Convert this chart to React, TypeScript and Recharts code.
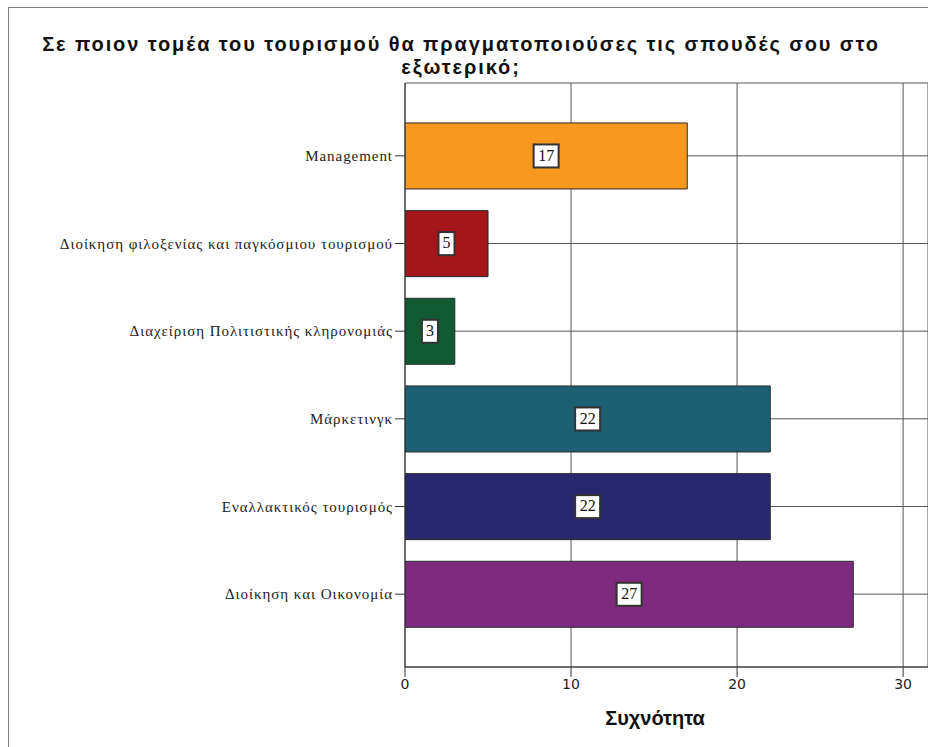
import { Bar, BarChart, CartesianGrid, Cell, LabelList, XAxis, YAxis } from "recharts";

const categories = [
  "Management",
  "Διοίκηση φιλοξενίας και παγκόσμιου τουρισμού",
  "Διαχείριση Πολιτιστικής κληρονομιάς",
  "Μάρκετινγκ",
  "Εναλλακτικός τουρισμός",
  "Διοίκηση και Οικονομία",
];
const counts = [17, 5, 3, 22, 22, 27];
const barColors = ["#F7991E", "#A5161B", "#125A33", "#1D5F73", "#29286F", "#7E2A7E"];
const xTicks = [0, 10, 20, 30];

const data = categories.map((name, i) => ({ name, value: counts[i] }));

function ValueBox(props: any) {
  const { x, y, width, height, value } = props;
  const text = String(value);
  const w = text.length * 9 + 7;
  const h = 23;
  const cx = x + width / 2;
  const cy = y + height / 2;
  return (
    <g>
      <rect
        x={cx - w / 2}
        y={cy - h / 2}
        width={w}
        height={h}
        fill="#fff"
        stroke="#333"
        strokeWidth={2}
      />
      <text
        x={cx}
        y={cy + 1}
        textAnchor="middle"
        dominantBaseline="middle"
        fontFamily="Liberation Serif"
        fontSize={16}
        fill="#111"
      >
        {text}
      </text>
    </g>
  );
}

export default function App() {
  return (
    <div
      style={{
        position: "absolute",
        left: 0,
        top: 0,
        width: 928,
        height: 747,
        overflow: "hidden",
        background: "#fff",
      }}
    >
      <div
        style={{
          position: "absolute",
          left: 8,
          top: 7,
          width: 940,
          height: 760,
          border: "1px solid #808080",
        }}
      />
      <div
        style={{
          position: "absolute",
          left: 0,
          top: 33,
          width: 922,
          textAlign: "center",
          fontFamily: "Liberation Sans",
          fontWeight: "bold",
          fontSize: 20,
          letterSpacing: 1.9,
          lineHeight: "23px",
          color: "#111",
        }}
      >
        Σε ποιον τομέα του τουρισμού θα πραγματοποιούσες τις σπουδές σου στο
        <br />
        εξωτερικό;
      </div>
      <BarChart
        width={928}
        height={747}
        data={data}
        layout="vertical"
        margin={{ top: 83, right: 0, left: 0, bottom: 50 }}
        barCategoryGap="12.5%"
        style={{ position: "absolute", left: 0, top: 0 }}
      >
        <CartesianGrid stroke="#555" strokeWidth={1} />
        <XAxis
          type="number"
          domain={[0, 31.5]}
          ticks={xTicks}
          allowDataOverflow
          height={30}
          tickSize={10}
          tickLine={{ stroke: "#333" }}
          axisLine={{ stroke: "#333" }}
          tick={{ fontFamily: "DejaVu Sans", fontSize: 14, fill: "#222" }}
        />
        <YAxis
          type="category"
          dataKey="name"
          width={405}
          padding={{ top: 29, bottom: 29 }}
          tickSize={10}
          tickLine={{ stroke: "#333" }}
          axisLine={{ stroke: "#333" }}
          tick={{ fontFamily: "Liberation Serif", fontSize: 15, fill: "#222", letterSpacing: 0.95 }}
          interval={0}
        />
        <Bar dataKey="value" stroke="#2a2a2a" strokeWidth={1} isAnimationActive={false}>
          {data.map((d, i) => (
            <Cell key={d.name} fill={barColors[i]} />
          ))}
          <LabelList dataKey="value" content={ValueBox} />
        </Bar>
      </BarChart>
      <div
        style={{
          position: "absolute",
          left: 555,
          top: 707,
          width: 200,
          textAlign: "center",
          fontFamily: "Liberation Sans",
          fontWeight: "bold",
          fontSize: 20,
          color: "#111",
        }}
      >
        Συχνότητα
      </div>
    </div>
  );
}
